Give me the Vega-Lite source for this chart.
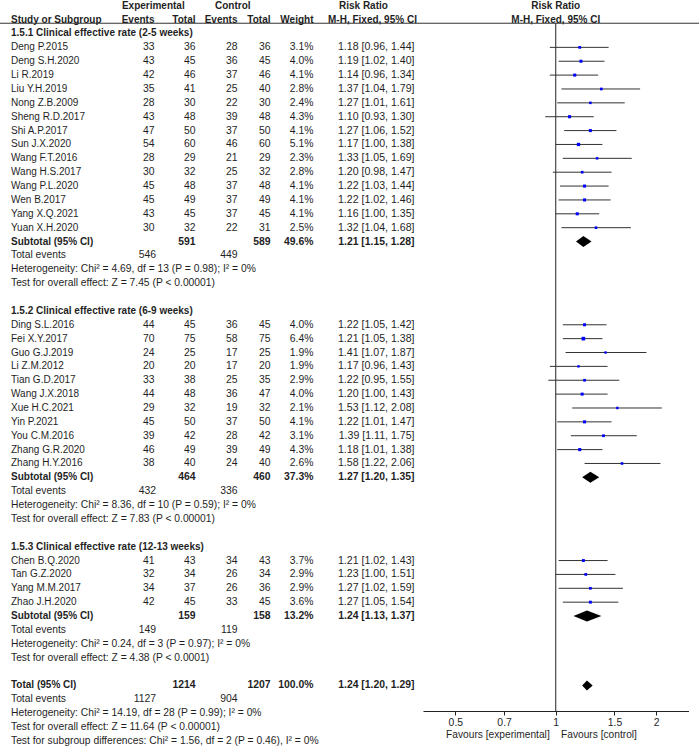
{
  "$schema": "https://vega.github.io/schema/vega-lite/v6.json",
  "width": 699,
  "height": 688,
  "autosize": {"type": "none"},
  "padding": {"top": 23, "bottom": 35, "left": 0, "right": 0},
  "background": "white",
  "config": {
    "view": {"stroke": null},
    "text": {"font": "Liberation Sans", "fontSize": 10, "color": "#1f1f1f", "baseline": "middle"}
  },
  "datasets": {
    "one": [{}],
    "studies": [
      {"row":1,"study":"Deng P.2015","ee":33,"et":36,"ce":28,"ct":36,"w":0.031,"rr":1.18,"lo":0.96,"hi":1.44,"ci":"1.18 [0.96, 1.44]"},
      {"row":2,"study":"Deng S.H.2020","ee":43,"et":45,"ce":36,"ct":45,"w":0.040,"rr":1.19,"lo":1.02,"hi":1.40,"ci":"1.19 [1.02, 1.40]"},
      {"row":3,"study":"Li R.2019","ee":42,"et":46,"ce":37,"ct":46,"w":0.041,"rr":1.14,"lo":0.96,"hi":1.34,"ci":"1.14 [0.96, 1.34]"},
      {"row":4,"study":"Liu Y.H.2019","ee":35,"et":41,"ce":25,"ct":40,"w":0.028,"rr":1.37,"lo":1.04,"hi":1.79,"ci":"1.37 [1.04, 1.79]"},
      {"row":5,"study":"Nong Z.B.2009","ee":28,"et":30,"ce":22,"ct":30,"w":0.024,"rr":1.27,"lo":1.01,"hi":1.61,"ci":"1.27 [1.01, 1.61]"},
      {"row":6,"study":"Sheng R.D.2017","ee":43,"et":48,"ce":39,"ct":48,"w":0.043,"rr":1.10,"lo":0.93,"hi":1.30,"ci":"1.10 [0.93, 1.30]"},
      {"row":7,"study":"Shi A.P.2017","ee":47,"et":50,"ce":37,"ct":50,"w":0.041,"rr":1.27,"lo":1.06,"hi":1.52,"ci":"1.27 [1.06, 1.52]"},
      {"row":8,"study":"Sun J.X.2020","ee":54,"et":60,"ce":46,"ct":60,"w":0.051,"rr":1.17,"lo":1.00,"hi":1.38,"ci":"1.17 [1.00, 1.38]"},
      {"row":9,"study":"Wang F.T.2016","ee":28,"et":29,"ce":21,"ct":29,"w":0.023,"rr":1.33,"lo":1.05,"hi":1.69,"ci":"1.33 [1.05, 1.69]"},
      {"row":10,"study":"Wang H.S.2017","ee":30,"et":32,"ce":25,"ct":32,"w":0.028,"rr":1.20,"lo":0.98,"hi":1.47,"ci":"1.20 [0.98, 1.47]"},
      {"row":11,"study":"Wang P.L.2020","ee":45,"et":48,"ce":37,"ct":48,"w":0.041,"rr":1.22,"lo":1.03,"hi":1.44,"ci":"1.22 [1.03, 1.44]"},
      {"row":12,"study":"Wen B.2017","ee":45,"et":49,"ce":37,"ct":49,"w":0.041,"rr":1.22,"lo":1.02,"hi":1.46,"ci":"1.22 [1.02, 1.46]"},
      {"row":13,"study":"Yang X.Q.2021","ee":43,"et":45,"ce":37,"ct":45,"w":0.041,"rr":1.16,"lo":1.00,"hi":1.35,"ci":"1.16 [1.00, 1.35]"},
      {"row":14,"study":"Yuan X.H.2020","ee":30,"et":32,"ce":22,"ct":31,"w":0.025,"rr":1.32,"lo":1.04,"hi":1.68,"ci":"1.32 [1.04, 1.68]"},
      {"row":21,"study":"Ding S.L.2016","ee":44,"et":45,"ce":36,"ct":45,"w":0.040,"rr":1.22,"lo":1.05,"hi":1.42,"ci":"1.22 [1.05, 1.42]"},
      {"row":22,"study":"Fei X.Y.2017","ee":70,"et":75,"ce":58,"ct":75,"w":0.064,"rr":1.21,"lo":1.05,"hi":1.38,"ci":"1.21 [1.05, 1.38]"},
      {"row":23,"study":"Guo G.J.2019","ee":24,"et":25,"ce":17,"ct":25,"w":0.019,"rr":1.41,"lo":1.07,"hi":1.87,"ci":"1.41 [1.07, 1.87]"},
      {"row":24,"study":"Li Z.M.2012","ee":20,"et":20,"ce":17,"ct":20,"w":0.019,"rr":1.17,"lo":0.96,"hi":1.43,"ci":"1.17 [0.96, 1.43]"},
      {"row":25,"study":"Tian G.D.2017","ee":33,"et":38,"ce":25,"ct":35,"w":0.029,"rr":1.22,"lo":0.95,"hi":1.55,"ci":"1.22 [0.95, 1.55]"},
      {"row":26,"study":"Wang J.X.2018","ee":44,"et":48,"ce":36,"ct":47,"w":0.040,"rr":1.20,"lo":1.00,"hi":1.43,"ci":"1.20 [1.00, 1.43]"},
      {"row":27,"study":"Xue H.C.2021","ee":29,"et":32,"ce":19,"ct":32,"w":0.021,"rr":1.53,"lo":1.12,"hi":2.08,"ci":"1.53 [1.12, 2.08]"},
      {"row":28,"study":"Yin P.2021","ee":45,"et":50,"ce":37,"ct":50,"w":0.041,"rr":1.22,"lo":1.01,"hi":1.47,"ci":"1.22 [1.01, 1.47]"},
      {"row":29,"study":"You C.M.2016","ee":39,"et":42,"ce":28,"ct":42,"w":0.031,"rr":1.39,"lo":1.11,"hi":1.75,"ci":"1.39 [1.11, 1.75]"},
      {"row":30,"study":"Zhang G.R.2020","ee":46,"et":49,"ce":39,"ct":49,"w":0.043,"rr":1.18,"lo":1.01,"hi":1.38,"ci":"1.18 [1.01, 1.38]"},
      {"row":31,"study":"Zhang H.Y.2016","ee":38,"et":40,"ce":24,"ct":40,"w":0.026,"rr":1.58,"lo":1.22,"hi":2.06,"ci":"1.58 [1.22, 2.06]"},
      {"row":38,"study":"Chen B.Q.2020","ee":41,"et":43,"ce":34,"ct":43,"w":0.037,"rr":1.21,"lo":1.02,"hi":1.43,"ci":"1.21 [1.02, 1.43]"},
      {"row":39,"study":"Tan G.Z.2020","ee":32,"et":34,"ce":26,"ct":34,"w":0.029,"rr":1.23,"lo":1.00,"hi":1.51,"ci":"1.23 [1.00, 1.51]"},
      {"row":40,"study":"Yang M.M.2017","ee":34,"et":37,"ce":26,"ct":36,"w":0.029,"rr":1.27,"lo":1.02,"hi":1.59,"ci":"1.27 [1.02, 1.59]"},
      {"row":41,"study":"Zhao J.H.2020","ee":42,"et":45,"ce":33,"ct":45,"w":0.036,"rr":1.27,"lo":1.05,"hi":1.54,"ci":"1.27 [1.05, 1.54]"}
    ],
    "summary": [
      {"row":15,"group":"1.5.1","label":"Subtotal (95% CI)","et":591,"ct":589,"w":0.496,"rr":1.21,"lo":1.15,"hi":1.28,"ci":"1.21 [1.15, 1.28]"},
      {"row":32,"group":"1.5.2","label":"Subtotal (95% CI)","et":464,"ct":460,"w":0.373,"rr":1.27,"lo":1.20,"hi":1.35,"ci":"1.27 [1.20, 1.35]"},
      {"row":42,"group":"1.5.3","label":"Subtotal (95% CI)","et":159,"ct":158,"w":0.132,"rr":1.24,"lo":1.13,"hi":1.37,"ci":"1.24 [1.13, 1.37]"},
      {"row":47,"group":"all","label":"Total (95% CI)","et":1214,"ct":1207,"w":1.0,"rr":1.24,"lo":1.20,"hi":1.29,"ci":"1.24 [1.20, 1.29]"}
    ],
    "events": [
      {"row":16,"ee":546,"ce":449},
      {"row":33,"ee":432,"ce":336},
      {"row":43,"ee":149,"ce":119},
      {"row":48,"ee":1127,"ce":904}
    ],
    "notes": [
      {"row":16,"text":"Total events"},
      {"row":17,"text":"Heterogeneity: Chi² = 4.69, df = 13 (P = 0.98); I² = 0%"},
      {"row":18,"text":"Test for overall effect: Z = 7.45 (P < 0.00001)"},
      {"row":33,"text":"Total events"},
      {"row":34,"text":"Heterogeneity: Chi² = 8.36, df = 10 (P = 0.59); I² = 0%"},
      {"row":35,"text":"Test for overall effect: Z = 7.83 (P < 0.00001)"},
      {"row":43,"text":"Total events"},
      {"row":44,"text":"Heterogeneity: Chi² = 0.24, df = 3 (P = 0.97); I² = 0%"},
      {"row":45,"text":"Test for overall effect: Z = 4.38 (P < 0.0001)"},
      {"row":48,"text":"Total events"},
      {"row":49,"text":"Heterogeneity: Chi² = 14.19, df = 28 (P = 0.99); I² = 0%"},
      {"row":50,"text":"Test for overall effect: Z = 11.64 (P < 0.00001)"},
      {"row":51,"text":"Test for subgroup differences: Chi² = 1.56, df = 2 (P = 0.46), I² = 0%"}
    ],
    "headings": [
      {"row":0,"text":"1.5.1 Clinical effective rate (2-5 weeks)"},
      {"row":20,"text":"1.5.2 Clinical effective rate (6-9 weeks)"},
      {"row":37,"text":"1.5.3 Clinical effective rate (12-13 weeks)"}
    ]
  },
  "layer": [
    {
      "layer": [
        {"data": {"name": "one"},
         "mark": {"type": "rule", "color": "#333", "strokeWidth": 1},
         "encoding": {"y": {"datum": -0.74, "type": "quantitative", "axis": null, "scale": {"domain": [-0.757, 48.847], "reverse": true, "nice": false, "zero": false}}}},
        {"data": {"name": "one"},
         "mark": {"type": "text", "fontWeight": "bold", "align": "center"},
         "encoding": {"x": {"datum": 153.3, "type": "quantitative", "axis": null, "scale": {"domain": [0, 699], "nice": false, "zero": false}},
                      "y": {"datum": -2, "type": "quantitative", "axis": null}, "text": {"value": "Experimental"}}},
        {"data": {"name": "one"},
         "mark": {"type": "text", "fontWeight": "bold", "align": "center"},
         "encoding": {"x": {"datum": 232.8, "type": "quantitative", "axis": null}, "y": {"datum": -2, "type": "quantitative", "axis": null}, "text": {"value": "Control"}}},
        {"data": {"name": "one"},
         "mark": {"type": "text", "fontWeight": "bold", "align": "left"},
         "encoding": {"x": {"datum": 339, "type": "quantitative", "axis": null}, "y": {"datum": -2, "type": "quantitative", "axis": null}, "text": {"value": "Risk Ratio"}}},
        {"data": {"name": "one"},
         "mark": {"type": "text", "fontWeight": "bold", "align": "left"},
         "encoding": {"x": {"datum": 11, "type": "quantitative", "axis": null}, "y": {"datum": -1, "type": "quantitative", "axis": null}, "text": {"value": "Study or Subgroup"}}},
        {"data": {"name": "one"},
         "mark": {"type": "text", "fontWeight": "bold", "align": "right"},
         "encoding": {"x": {"datum": 154.5, "type": "quantitative", "axis": null}, "y": {"datum": -1, "type": "quantitative", "axis": null}, "text": {"value": "Events"}}},
        {"data": {"name": "one"},
         "mark": {"type": "text", "fontWeight": "bold", "align": "right"},
         "encoding": {"x": {"datum": 195.5, "type": "quantitative", "axis": null}, "y": {"datum": -1, "type": "quantitative", "axis": null}, "text": {"value": "Total"}}},
        {"data": {"name": "one"},
         "mark": {"type": "text", "fontWeight": "bold", "align": "right"},
         "encoding": {"x": {"datum": 237.5, "type": "quantitative", "axis": null}, "y": {"datum": -1, "type": "quantitative", "axis": null}, "text": {"value": "Events"}}},
        {"data": {"name": "one"},
         "mark": {"type": "text", "fontWeight": "bold", "align": "right"},
         "encoding": {"x": {"datum": 270.5, "type": "quantitative", "axis": null}, "y": {"datum": -1, "type": "quantitative", "axis": null}, "text": {"value": "Total"}}},
        {"data": {"name": "one"},
         "mark": {"type": "text", "fontWeight": "bold", "align": "right"},
         "encoding": {"x": {"datum": 313.5, "type": "quantitative", "axis": null}, "y": {"datum": -1, "type": "quantitative", "axis": null}, "text": {"value": "Weight"}}},
        {"data": {"name": "one"},
         "mark": {"type": "text", "fontWeight": "bold", "align": "left"},
         "encoding": {"x": {"datum": 328, "type": "quantitative", "axis": null}, "y": {"datum": -1, "type": "quantitative", "axis": null}, "text": {"value": "M-H, Fixed, 95% CI"}}},
        {"data": {"name": "headings"},
         "mark": {"type": "text", "fontWeight": "bold", "align": "left"},
         "encoding": {"x": {"datum": 11, "type": "quantitative", "axis": null}, "y": {"field": "row", "type": "quantitative", "axis": null}, "text": {"field": "text"}}},
        {"data": {"name": "studies"},
         "mark": {"type": "text", "align": "left"},
         "encoding": {"x": {"datum": 11, "type": "quantitative", "axis": null}, "y": {"field": "row", "type": "quantitative", "axis": null}, "text": {"field": "study"}}},
        {"data": {"name": "studies"},
         "mark": {"type": "text", "align": "right", "fontSize": 10.4},
         "encoding": {"x": {"datum": 154.5, "type": "quantitative", "axis": null}, "y": {"field": "row", "type": "quantitative", "axis": null}, "text": {"field": "ee"}}},
        {"data": {"name": "studies"},
         "mark": {"type": "text", "align": "right", "fontSize": 10.4},
         "encoding": {"x": {"datum": 195.5, "type": "quantitative", "axis": null}, "y": {"field": "row", "type": "quantitative", "axis": null}, "text": {"field": "et"}}},
        {"data": {"name": "studies"},
         "mark": {"type": "text", "align": "right", "fontSize": 10.4},
         "encoding": {"x": {"datum": 237.5, "type": "quantitative", "axis": null}, "y": {"field": "row", "type": "quantitative", "axis": null}, "text": {"field": "ce"}}},
        {"data": {"name": "studies"},
         "mark": {"type": "text", "align": "right", "fontSize": 10.4},
         "encoding": {"x": {"datum": 270.5, "type": "quantitative", "axis": null}, "y": {"field": "row", "type": "quantitative", "axis": null}, "text": {"field": "ct"}}},
        {"data": {"name": "studies"},
         "mark": {"type": "text", "align": "right", "fontSize": 10.4},
         "encoding": {"x": {"datum": 313.5, "type": "quantitative", "axis": null}, "y": {"field": "row", "type": "quantitative", "axis": null}, "text": {"field": "w", "type": "quantitative", "format": ".1%"}}},
        {"data": {"name": "studies"},
         "mark": {"type": "text", "align": "right", "fontSize": 10.6},
         "encoding": {"x": {"datum": 414.5, "type": "quantitative", "axis": null}, "y": {"field": "row", "type": "quantitative", "axis": null}, "text": {"field": "ci"}}},
        {"data": {"name": "summary"},
         "mark": {"type": "text", "fontWeight": "bold", "align": "left"},
         "encoding": {"x": {"datum": 11, "type": "quantitative", "axis": null}, "y": {"field": "row", "type": "quantitative", "axis": null}, "text": {"field": "label"}}},
        {"data": {"name": "summary"},
         "mark": {"type": "text", "fontWeight": "bold", "align": "right", "fontSize": 10.4},
         "encoding": {"x": {"datum": 195.5, "type": "quantitative", "axis": null}, "y": {"field": "row", "type": "quantitative", "axis": null}, "text": {"field": "et"}}},
        {"data": {"name": "summary"},
         "mark": {"type": "text", "fontWeight": "bold", "align": "right", "fontSize": 10.4},
         "encoding": {"x": {"datum": 270.5, "type": "quantitative", "axis": null}, "y": {"field": "row", "type": "quantitative", "axis": null}, "text": {"field": "ct"}}},
        {"data": {"name": "summary"},
         "mark": {"type": "text", "fontWeight": "bold", "align": "right", "fontSize": 10.4},
         "encoding": {"x": {"datum": 313.5, "type": "quantitative", "axis": null}, "y": {"field": "row", "type": "quantitative", "axis": null}, "text": {"field": "w", "type": "quantitative", "format": ".1%"}}},
        {"data": {"name": "summary"},
         "mark": {"type": "text", "fontWeight": "bold", "align": "right", "fontSize": 10.4},
         "encoding": {"x": {"datum": 414.5, "type": "quantitative", "axis": null}, "y": {"field": "row", "type": "quantitative", "axis": null}, "text": {"field": "ci"}}},
        {"data": {"name": "events"},
         "mark": {"type": "text", "align": "right", "fontSize": 10.4},
         "encoding": {"x": {"datum": 156, "type": "quantitative", "axis": null}, "y": {"field": "row", "type": "quantitative", "axis": null}, "text": {"field": "ee"}}},
        {"data": {"name": "events"},
         "mark": {"type": "text", "align": "right", "fontSize": 10.4},
         "encoding": {"x": {"datum": 237.5, "type": "quantitative", "axis": null}, "y": {"field": "row", "type": "quantitative", "axis": null}, "text": {"field": "ce"}}},
        {"data": {"name": "notes"},
         "mark": {"type": "text", "align": "left", "fontSize": 10.3},
         "encoding": {"x": {"datum": 11, "type": "quantitative", "axis": null}, "y": {"field": "row", "type": "quantitative", "axis": null}, "text": {"field": "text"}}}
      ]
    },
    {
      "layer": [
        {"data": {"name": "one"},
         "mark": {"type": "rule", "color": "#222", "strokeWidth": 1},
         "encoding": {"x": {"datum": 1, "type": "quantitative",
                            "scale": {"type": "log", "domain": [0.4, 2.5], "range": [423, 688.5], "nice": false},
                            "axis": {"values": [0.5, 0.7, 1, 1.5, 2], "format": "~g", "grid": false, "orient": "bottom",
                                     "domainColor": "#222", "tickColor": "#222", "tickSize": 4,
                                     "labelFont": "Liberation Sans", "labelFontSize": 10.4, "labelColor": "#1f1f1f",
                                     "labelPadding": 7, "labelBaseline": "middle", "labelFlush": false, "labelOverlap": false,
                                     "title": "Favours [experimental]\u00a0\u00a0\u00a0\u00a0Favours [control]",
                                     "titleFont": "Liberation Sans", "titleFontSize": 10.2, "titleFontWeight": "normal",
                                     "titleColor": "#1f1f1f", "titleX": 541, "titleY": 23, "titleBaseline": "middle", "titleAlign": "center"}}}},
        {"data": {"name": "one"},
         "mark": {"type": "text", "fontWeight": "bold", "align": "center"},
         "encoding": {"x": {"datum": 1, "type": "quantitative"}, "y": {"datum": -2, "type": "quantitative", "axis": null}, "text": {"value": "Risk Ratio"}}},
        {"data": {"name": "one"},
         "mark": {"type": "text", "fontWeight": "bold", "align": "center"},
         "encoding": {"x": {"datum": 1, "type": "quantitative"}, "y": {"datum": -1, "type": "quantitative", "axis": null}, "text": {"value": "M-H, Fixed, 95% CI"}}},
        {"data": {"name": "studies"},
         "mark": {"type": "rule", "color": "#333", "strokeWidth": 1},
         "encoding": {"x": {"field": "lo", "type": "quantitative"}, "x2": {"field": "hi"}, "y": {"field": "row", "type": "quantitative", "axis": null}}},
        {"data": {"name": "studies"},
         "mark": {"type": "point", "shape": "square", "filled": true, "color": "#0000ff", "opacity": 1},
         "encoding": {"x": {"field": "rr", "type": "quantitative"}, "y": {"field": "row", "type": "quantitative", "axis": null},
                      "size": {"field": "w", "type": "quantitative", "scale": {"domain": [0.015, 0.07], "range": [5, 14]}, "legend": null}}},
        {"data": {"name": "summary"},
         "mark": {"type": "point", "filled": true, "color": "#000", "opacity": 1, "size": 4},
         "encoding": {"x": {"field": "rr", "type": "quantitative"}, "y": {"field": "row", "type": "quantitative", "axis": null},
                      "shape": {"field": "group", "type": "nominal", "legend": null,
                                "scale": {"domain": ["1.5.1", "1.5.2", "1.5.3", "all"],
                                          "range": ["M-7.37,0L0,-5.5L8.15,0L0,5.5Z", "M-8.21,0L0,-5.5L8.85,0L0,5.5Z", "M-13.46,0L0,-5.5L14.44,0L0,5.5Z", "M-4.75,0L0,-5L5.73,0L0,5Z"]}}}}
      ]
    }
  ],
  "resolve": {"scale": {"x": "independent"}, "axis": {"x": "independent"}}
}
